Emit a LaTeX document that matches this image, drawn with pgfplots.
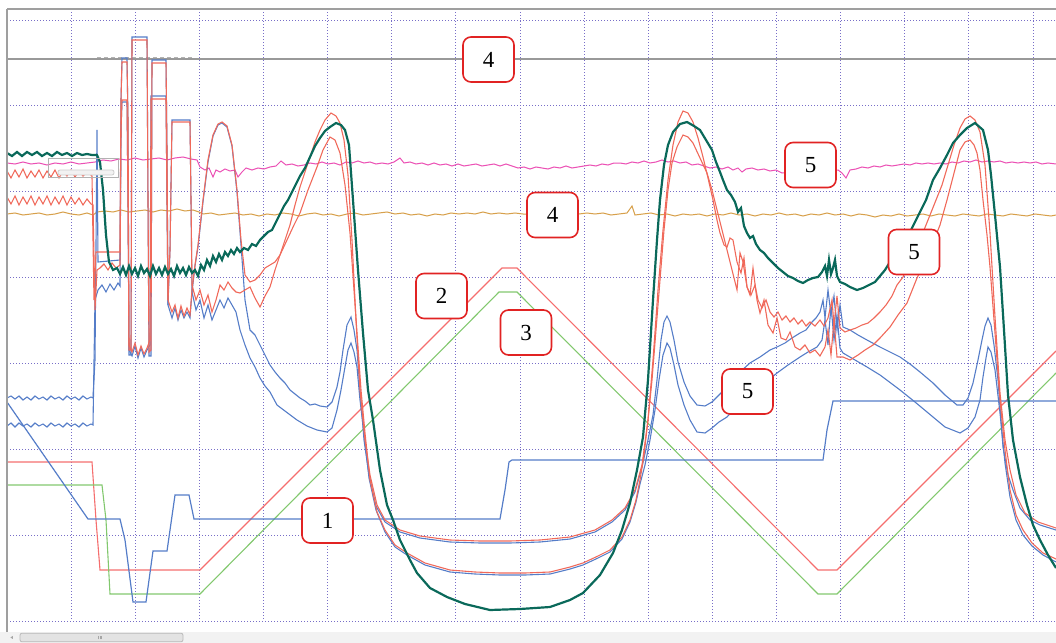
\documentclass[border=0pt]{standalone}
\usepackage{fontspec}
\setmainfont{Liberation Serif}
\usepackage{pgfplots}
\pgfplotsset{compat=1.18}
\definecolor{gridc}{RGB}{120,110,200}
\definecolor{rampred}{RGB}{245,110,110}
\definecolor{tred}{RGB}{240,105,90}
\definecolor{tblue}{RGB}{85,125,200}
\definecolor{tgreen}{RGB}{130,200,110}
\definecolor{teal2}{RGB}{10,105,90}
\definecolor{tpink}{RGB}{235,80,180}
\definecolor{torange}{RGB}{215,160,75}
\definecolor{lblred}{RGB}{225,35,35}
\tikzset{lbl/.style={draw=lblred, line width=0.8pt, rounded corners=4pt, fill=white,
     minimum width=25.5pt, minimum height=22.5pt, inner sep=0pt,
     font=\fontsize{11.5}{13}\selectfont}}
\begin{document}
\begin{tikzpicture}
\useasboundingbox (0,0) rectangle (528pt,321.5pt);
\begin{axis}[
  at={(3.5pt,317pt)}, anchor=north west,
  scale only axis, width=524.5pt, height=306pt,
  xmin=7, xmax=1056, ymin=9, ymax=621, y dir=reverse,
  axis line style={draw=none},
  xtick={71.1,135.25,199.4,263.5,327.6,391.75,455.9,520,584.1,648.25,712.4,776.5,840.6,904.75,968.9,1033},
  ytick={20,105.9,191.7,277.6,363.4,449.3,535.1,621},
  xticklabels={}, yticklabels={}, major tick length=0pt,
  grid=major,
  major grid style={gridc, line width=0.5pt, dash pattern=on 0.5pt off 1pt},
]
% gray line (4)
\addplot[gray!80, line width=1pt] coordinates {(7,59) (1056,59)};
\addplot[gray!60, line width=0.4pt, dash pattern=on 2pt off 1.5pt] coordinates {(97,57) (195,57)};
% orange (4)
\addplot[torange, line width=0.5pt] coordinates {
(7,214)(15,213)(23,215)(31,214)(39,213)(47,215)(55,214)(63,212)(71,214)(79,215)(87,213)(93,215)(97,212)(105,211)(113,212)(121,210)(129,212)(137,211)(145,210)(153,212)(161,210)(169,211)(177,209)(185,211)(193,210)(199,212)(203,214)(211,213)(219,215)(227,214)(235,213)(243,215)(251,214)(259,216)(267,214)(275,215)(283,213)(291,214)(299,216)(307,214)(315,213)(323,215)(331,214)(339,216)(347,214)(355,213)(363,215)(371,214)(379,213)(387,212)(395,214)(403,213)(411,215)(419,214)(427,216)(435,214)(443,215)(451,213)(459,214)(467,213)(475,214)(483,212)(491,214)(499,213)(507,214)(515,213)(523,214)(531,214)(579,214)(587,213)(595,214)(603,213)(611,215)(619,214)(627,213)(632,206)(635,215)(643,214)(651,213)(659,215)(667,214)(675,216)(683,214)(691,215)(699,214)(707,216)(715,214)(723,215)(731,213)(739,215)(747,214)(755,216)(763,214)(771,215)(779,213)(787,215)(795,214)(803,216)(811,214)(819,215)(827,213)(835,215)(843,214)(851,216)(859,214)(867,215)(875,217)(883,215)(891,216)(899,214)(907,216)(915,215)(923,214)(931,216)(939,214)(947,215)(955,216)(963,214)(971,215)(979,216)(987,214)(995,215)(1003,216)(1011,214)(1019,215)(1027,216)(1035,214)(1043,215)(1051,216)(1056,215)};
% pink (5)
\addplot[tpink, line width=0.5pt] coordinates {
(7,163)(15,164)(23,162)(31,164)(39,163)(47,165)(55,163)(63,164)(71,162)(79,164)(87,163)(95,162)(103,160)(111,161)(119,159)(127,160)(135,158)(143,160)(151,159)(159,158)(167,160)(175,158)(183,157)(191,159)(197,160)(200,167)(205,170)(209,168)(213,177)(216,170)(220,172)(225,169)(230,171)(235,170)(238,177)(242,172)(246,168)(252,170)(258,168)(264,169)(270,167)(276,166)(281,161)(286,165)(292,164)(298,166)(304,165)(310,163)(316,164)(322,162)(328,164)(334,163)(340,165)(346,162)(352,163)(358,161)(364,163)(370,162)(376,164)(382,163)(388,164)(394,162)(400,158)(404,163)(410,162)(416,164)(422,163)(428,165)(434,163)(440,165)(446,164)(452,166)(458,164)(464,166)(470,165)(476,164)(482,166)(488,165)(494,164)(500,166)(506,164)(512,166)(518,168)(524,167)(530,169)(536,167)(542,168)(548,169)(554,167)(560,168)(566,166)(572,168)(578,167)(584,166)(590,165)(596,166)(602,164)(608,165)(614,163)(620,163)(626,164)(632,162)(638,163)(644,161)(650,163)(656,162)(662,160)(668,162)(674,161)(680,163)(686,162)(692,165)(698,164)(704,166)(710,168)(716,167)(722,169)(728,167)(733,170)(738,168)(742,172)(746,169)(752,168)(758,170)(764,169)(770,171)(776,170)(782,173)(838,170)(842,173)(846,178)(850,170)(856,169)(862,167)(868,168)(874,166)(880,167)(886,165)(892,166)(898,165)(904,164)(910,165)(916,163)(922,164)(928,163)(934,164)(940,163)(946,164)(952,162)(958,163)(964,161)(970,162)(976,160)(982,162)(988,161)(994,162)(1000,161)(1006,163)(1012,162)(1018,163)(1024,162)(1030,163)(1036,162)(1042,164)(1048,163)(1056,164)};
% ramps 2 and 3
\addplot[rampred, line width=0.55pt] coordinates {(7,462)(92,462)(96,520)(100,570)(200,570)(502,268)(517,268)(818,570)(837,570)(1056,351)};
\addplot[tgreen, line width=0.55pt] coordinates {(7,485)(102,485)(106,520)(110,594)(200,594)(499,292)(517,292)(818,594)(837,594)(1056,373)};
% step 1
\addplot[tblue, line width=0.6pt] coordinates {(7,402)(88,519)(120,519)(125,540)(133,602)(146,602)(153,551)(167,551)(175,495)(189,495)(194,519)(500,519)(505,490)(509,462)(512,460)(823,460)(827,430)(833,401)(1056,401)};
% Bb
\addplot[tblue, line width=0.55pt] coordinates {
(7,426)(11,423)(15,427)(19,423)(23,426)(27,424)(31,427)(35,423)(39,426)(43,424)(47,427)(51,423)(55,426)(59,424)(63,427)(67,423)(71,426)(75,424)(79,427)(83,423)(87,426)(91,424)(93,425)(95,300)(98,290)(102,285)(106,292)(110,284)(114,290)(118,283)(120,286)(121,130)(122,102)(127,102)(128,200)(129,350)(132,356)(135,346)(138,358)(141,348)(144,357)(147,350)(150,345)(151,96)(166,96)(167,200)(168,305)(170,250)(172,120)(190,120)(191,200)(192,292)(196,310)(200,300)(204,318)(208,305)(212,320)(216,310)(220,300)(224,308)(228,298)(232,305)(236,312)(240,330)(245,345)(250,358)(255,367)(260,378)(265,386)(270,392)(277,405)(285,411)(297,420)(307,426)(317,430)(327,432)(332,428)(337,410)(341,390)(345,367)(348,350)(351,343)(354,352)(357,367)(360,400)(364,433)(369,478)(376,510)(385,532)(395,547)(407,555)(425,565)(450,572)(475,574)(500,575)(525,575)(550,574)(570,569)(583,565)(598,558)(610,552)(622,539)(630,522)(636,502)(640,484)(645,465)(650,440)(655,410)(659,380)(663,355)(667,343)(670,348)(674,365)(678,385)(684,405)(690,420)(697,432)(705,433)(712,428)(719,422)(727,417)(735,408)(745,398)(755,390)(765,383)(777,373)(788,365)(800,357)(808,352)(817,347)(822,340)(825,320)(828,345)(831,305)(834,340)(837,315)(840,348)(843,353)(855,360)(867,367)(880,375)(900,390)(915,402)(933,417)(945,427)(960,433)(968,428)(975,417)(980,400)(983,377)(986,358)(988,347)(991,352)(995,370)(1000,413)(1005,463)(1010,497)(1016,520)(1023,535)(1032,546)(1043,555)(1056,562)};
% Ba
\addplot[tblue, line width=0.55pt] coordinates {
(7,398)(11,396)(15,399)(19,396)(23,400)(27,397)(31,400)(35,396)(39,399)(43,397)(47,400)(51,396)(55,399)(59,397)(63,400)(67,396)(71,399)(75,397)(79,400)(83,396)(87,399)(91,397)(93,398)(95,360)(97,130)(98,262)(120,260)(121,100)(122,58)(127,58)(128,120)(129,355)(131,355)(132,37)(147,37)(148,200)(149,356)(151,356)(152,60)(166,60)(167,150)(168,305)(172,318)(175,308)(178,320)(181,310)(184,318)(187,312)(190,318)(192,292)(195,266)(198,247)(203,202)(208,162)(213,136)(218,125)(222,123)(227,127)(232,146)(237,192)(241,245)(245,300)(250,330)(255,335)(260,345)(265,355)(270,365)(275,372)(280,378)(285,383)(290,390)(295,394)(300,398)(305,401)(310,405)(315,404)(320,406)(327,407)(332,402)(337,387)(340,372)(343,350)(347,325)(351,317)(354,330)(357,350)(360,390)(364,440)(369,475)(376,506)(385,522)(400,532)(420,538)(450,542)(480,543)(510,543)(540,542)(570,539)(595,532)(612,522)(625,510)(635,492)(642,467)(648,440)(653,415)(657,380)(661,340)(664,322)(667,316)(670,322)(674,340)(678,362)(684,382)(690,396)(697,405)(705,406)(712,402)(717,397)(722,392)(730,383)(740,372)(750,363)(760,357)(770,350)(777,347)(785,343)(792,338)(800,333)(806,330)(812,322)(816,318)(820,312)(823,300)(825,318)(828,290)(831,315)(834,296)(837,330)(840,305)(843,327)(850,330)(858,335)(867,340)(880,347)(890,352)(900,357)(910,364)(920,372)(933,383)(945,395)(957,405)(963,405)(968,398)(973,383)(978,360)(982,340)(985,326)(988,318)(991,325)(994,345)(998,380)(1003,447)(1008,475)(1013,490)(1020,508)(1030,520)(1040,525)(1056,530)};
% Rb
\addplot[tred, line width=0.55pt] coordinates {
(7,197)(11,204)(15,196)(19,205)(23,197)(27,204)(31,196)(35,205)(39,197)(43,204)(47,196)(51,205)(55,197)(59,204)(63,196)(67,205)(71,197)(75,204)(79,198)(83,205)(87,199)(91,204)(93,205)(95,310)(97,270)(100,268)(104,264)(108,270)(112,263)(116,268)(120,265)(121,130)(122,100)(127,100)(128,200)(129,345)(132,352)(135,343)(138,355)(141,346)(144,354)(147,348)(150,340)(151,99)(166,99)(167,200)(168,300)(170,250)(172,122)(190,122)(191,200)(192,285)(196,300)(200,290)(204,305)(208,295)(212,312)(216,300)(220,285)(224,290)(228,282)(232,288)(236,292)(240,293)(245,290)(250,287)(255,298)(260,307)(265,296)(270,287)(275,270)(280,255)(287,240)(294,225)(300,213)(308,190)(317,167)(323,150)(330,137)(335,140)(340,153)(345,185)(350,233)(354,290)(357,333)(361,390)(365,433)(370,480)(377,512)(385,530)(395,545)(407,553)(425,563)(450,570)(475,572)(500,573)(525,573)(550,572)(570,567)(583,563)(598,556)(610,550)(622,537)(630,520)(636,500)(640,480)(644,455)(648,420)(652,380)(656,330)(660,280)(664,230)(668,190)(672,163)(677,147)(683,135)(688,137)(693,143)(700,158)(707,173)(712,190)(717,210)(722,230)(727,250)(732,270)(737,290)(740,253)(743,262)(747,287)(750,295)(753,268)(757,300)(760,313)(764,300)(768,325)(773,333)(777,318)(781,338)(786,340)(790,332)(795,347)(800,350)(805,345)(810,353)(815,350)(820,356)(825,347)(828,330)(831,355)(834,320)(837,357)(843,357)(850,360)(858,355)(865,350)(873,345)(880,338)(890,327)(898,315)(907,303)(917,278)(925,262)(932,245)(940,225)(947,200)(953,177)(960,150)(965,142)(970,140)(974,145)(977,153)(980,170)(983,200)(987,235)(990,267)(995,333)(1000,400)(1005,450)(1010,490)(1016,515)(1023,530)(1032,543)(1043,553)(1056,559)};
% Ra
\addplot[tred, line width=0.55pt] coordinates {
(7,171)(11,178)(15,170)(19,177)(23,169)(27,178)(31,171)(35,177)(39,170)(43,178)(47,171)(51,177)(55,170)(59,178)(63,171)(67,176)(71,170)(75,177)(79,171)(83,176)(87,172)(91,175)(92,176)(94,300)(96,252)(120,252)(121,100)(122,62)(127,62)(128,120)(129,350)(131,350)(132,40)(147,40)(148,200)(149,352)(151,350)(152,63)(166,63)(167,150)(168,300)(172,312)(175,305)(178,318)(181,306)(184,316)(187,308)(190,315)(192,290)(195,265)(198,245)(203,200)(208,160)(213,135)(218,124)(222,122)(227,126)(232,145)(237,190)(241,240)(245,275)(250,282)(255,280)(260,275)(265,268)(270,265)(275,262)(280,255)(285,240)(290,225)(295,205)(300,187)(305,172)(310,157)(315,142)(320,130)(325,120)(331,113)(336,116)(340,123)(344,140)(348,175)(352,240)(356,320)(360,390)(365,440)(370,475)(377,505)(385,520)(400,530)(420,536)(450,540)(480,541)(510,541)(540,540)(570,537)(595,530)(612,520)(625,508)(635,490)(642,465)(648,420)(653,360)(658,290)(663,230)(668,180)(673,145)(678,122)(683,111)(688,113)(693,122)(698,138)(703,157)(708,178)(713,200)(717,220)(720,233)(724,245)(727,247)(730,238)(733,240)(737,262)(741,273)(744,258)(747,287)(751,295)(755,285)(758,300)(762,308)(766,300)(770,312)(774,317)(778,312)(782,320)(786,316)(790,322)(794,318)(798,324)(802,320)(806,326)(810,322)(815,326)(820,320)(824,326)(828,318)(832,300)(834,325)(837,296)(840,328)(845,332)(850,330)(856,328)(862,325)(868,323)(874,318)(880,312)(886,305)(892,296)(897,285)(903,277)(910,262)(917,245)(924,230)(930,215)(936,200)(942,185)(948,165)(954,145)(960,128)(965,119)(970,116)(975,120)(980,132)(985,165)(990,233)(995,317)(1000,393)(1005,440)(1010,470)(1016,495)(1025,513)(1038,522)(1056,528)};
% teal
\addplot[teal2, line width=1.1pt] coordinates {
(7,153)(12,156)(17,152)(22,156)(27,152)(32,155)(37,152)(42,156)(47,153)(52,156)(57,152)(62,155)(67,153)(72,156)(77,153)(82,155)(87,154)(92,155)(97,155)(100,162)(103,190)(106,235)(109,262)(113,270)(117,268)(120,274)(123,267)(126,275)(129,266)(132,274)(135,268)(138,276)(141,266)(144,273)(147,269)(150,276)(153,266)(156,274)(159,268)(162,275)(165,267)(168,274)(171,269)(174,276)(177,266)(180,273)(183,268)(186,275)(189,267)(192,273)(195,270)(198,276)(201,265)(204,270)(207,260)(210,266)(213,256)(216,262)(219,254)(222,260)(225,252)(228,256)(231,250)(234,254)(237,248)(240,252)(244,248)(248,250)(252,244)(256,246)(260,240)(264,236)(268,232)(272,230)(276,222)(280,214)(284,206)(288,200)(292,192)(296,184)(300,176)(305,168)(310,157)(315,146)(320,138)(325,131)(330,127)(336,123)(341,125)(345,130)(349,145)(353,200)(358,270)(363,333)(368,390)(373,420)(380,470)(387,505)(393,520)(400,540)(410,560)(417,573)(430,588)(447,597)(465,604)(490,610)(520,609)(550,607)(570,600)(583,593)(600,575)(613,553)(622,530)(630,503)(637,470)(643,437)(648,380)(653,300)(657,240)(660,200)(664,165)(668,145)(673,132)(680,124)(687,122)(694,126)(700,130)(706,140)(712,150)(716,162)(720,172)(723,180)(727,190)(731,195)(735,202)(738,212)(741,208)(744,226)(747,233)(750,238)(753,236)(756,244)(760,250)(764,253)(768,258)(773,263)(778,268)(783,272)(788,276)(793,278)(798,281)(803,283)(808,280)(813,278)(818,277)(822,272)(825,266)(827,276)(829,260)(831,274)(833,268)(835,260)(837,276)(840,282)(845,284)(850,287)(857,290)(863,288)(869,285)(875,282)(880,276)(885,270)(890,262)(896,256)(902,246)(908,236)(914,224)(920,212)(926,200)(933,180)(940,168)(947,155)(953,143)(960,135)(967,128)(975,123)(983,130)(988,150)(991,175)(995,215)(1000,267)(1004,330)(1008,395)(1013,440)(1020,477)(1027,505)(1033,525)(1040,540)(1048,555)(1056,568)};
% small gray box artifact
\draw[gray!60, line width=0.5pt] (axis cs:48,158) rectangle (axis cs:118,177);
\draw[gray!40, line width=0.4pt, rounded corners=1pt, fill=gray!10] (axis cs:58,170) rectangle (axis cs:114,175);
% labels
\node[lbl] at (axis cs:488.5,59.5) {4};
\node[lbl] at (axis cs:552.5,215) {4};
\node[lbl] at (axis cs:441.5,296) {2};
\node[lbl] at (axis cs:526,332.5) {3};
\node[lbl] at (axis cs:810.5,165) {5};
\node[lbl] at (axis cs:914,252) {5};
\node[lbl] at (axis cs:747.5,391.5) {5};
\node[lbl] at (axis cs:327.5,520.5) {1};
\end{axis}
% frame borders
\draw[gray!75, line width=0.75pt] (3.5pt,317pt) -- (528pt,317pt);
\draw[gray!75, line width=0.75pt] (3.5pt,317pt) -- (3.5pt,5.5pt);
% scrollbar
\fill[gray!10] (0,0) rectangle (528pt,5.5pt);
\draw[gray!55, fill=gray!22, rounded corners=1pt, line width=0.4pt] (10pt,0.6pt) rectangle (91.5pt,4.9pt);
\foreach \xx in {49.3pt,50pt,50.7pt} {\draw[gray!70, line width=0.25pt] (\xx,1.8pt) -- (\xx,3.7pt);}
\fill[gray!70] (5.2pt,2.75pt) -- (6.4pt,3.5pt) -- (6.4pt,2pt) -- cycle;
\end{tikzpicture}
\end{document}
